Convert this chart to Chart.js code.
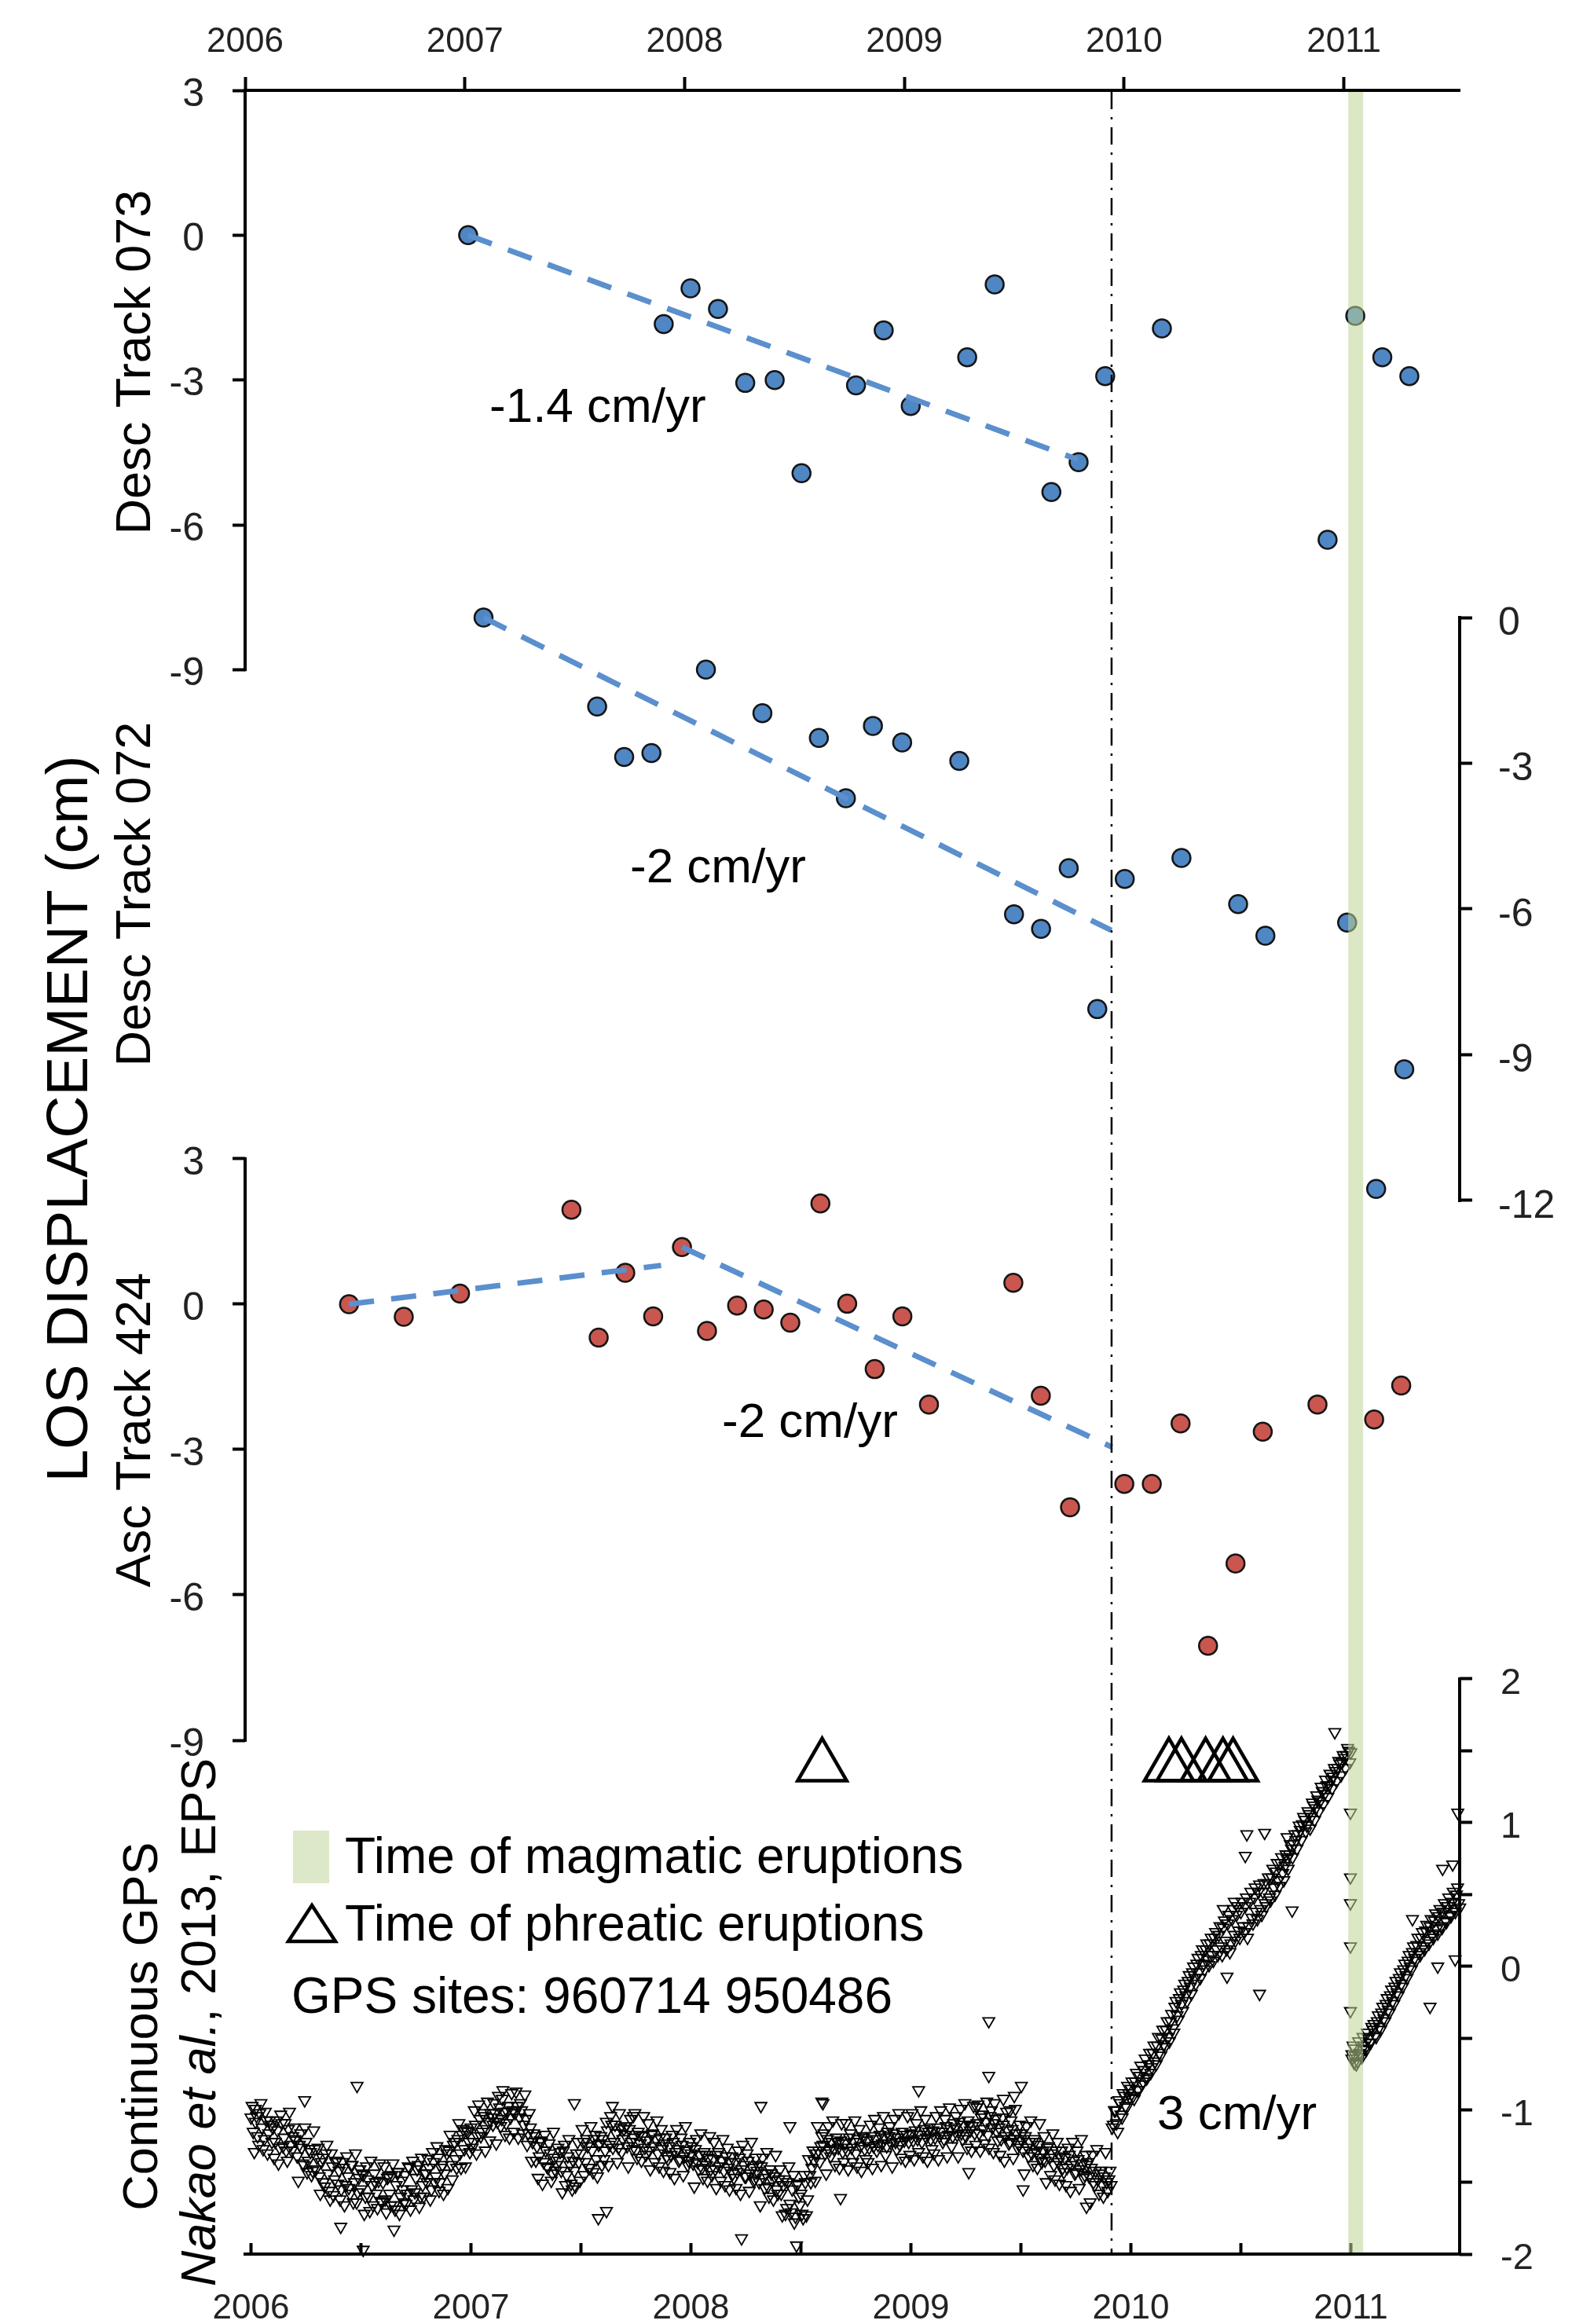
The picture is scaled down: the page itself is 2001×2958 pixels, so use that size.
<!DOCTYPE html>
<html>
<head>
<meta charset="utf-8">
<title>LOS displacement and continuous GPS</title>
<script src="https://cdn.jsdelivr.net/npm/chart.js@4.4.1/dist/chart.umd.min.js"></script>
<style>
  html, body { margin: 0; padding: 0; background: #fff; }
  canvas { display: block; }
</style>
</head>
<body>
<canvas id="losChart" width="2001" height="2958"></canvas>
<script>
// ---- tick labels ----
var yearTicks = [2006, 2007, 2008, 2009, 2010, 2011];
var gpsYearTicks = [2006, 2006.5, 2007, 2007.5, 2008, 2008.5, 2009, 2009.5, 2010, 2010.5, 2011];
var ticks073 = [3, 0, -3, -6, -9];
var ticks072 = [0, -3, -6, -9, -12];
var ticks424 = [3, 0, -3, -6, -9];
var gpsTicks = [2, 1.5, 1, 0.5, 0, -0.5, -1, -1.5, -2];

// ---- InSAR time series (year, cm) ----
var t073 = [2007.015, 2007.905, 2008.027, 2008.152, 2008.276, 2008.41, 2008.532, 2008.78, 2008.906, 2009.029,
            2009.286, 2009.411, 2009.669, 2009.793, 2009.914, 2010.172, 2010.926, 2011.052, 2011.175, 2011.298];
var d073 = [0, -1.84, -1.10, -1.53, -3.06, -3.00, -4.93, -3.11, -1.97, -3.54,
            -2.53, -1.02, -5.32, -4.70, -2.92, -1.93, -6.31, -1.67, -2.53, -2.92];

var t072 = [2007.085, 2007.602, 2007.725, 2007.849, 2008.097, 2008.354, 2008.611, 2008.734, 2008.857, 2008.99, 2009.25,
            2009.499, 2009.622, 2009.748, 2009.878, 2010.003, 2010.261, 2010.519, 2010.643, 2011.015, 2011.147, 2011.275];
var d072 = [0, -1.83, -2.87, -2.79, -1.07, -1.97, -2.48, -3.72, -2.23, -2.57, -2.95,
            -6.11, -6.41, -5.16, -8.06, -5.38, -4.95, -5.90, -6.55, -6.28, -11.76, -9.30];

var t424 = [2006.473, 2006.722, 2006.978, 2007.485, 2007.609, 2007.73, 2007.857, 2007.988, 2008.102, 2008.239,
            2008.36, 2008.481, 2008.618, 2008.74, 2008.865, 2008.991, 2009.112, 2009.496, 2009.621, 2009.754,
            2010.001, 2010.126, 2010.257, 2010.382, 2010.507, 2010.631, 2010.88, 2011.138, 2011.261];
var d424 = [0, -0.26, 0.22, 1.95, -0.69, 0.65, -0.25, 1.18, -0.55, -0.03,
            -0.11, -0.38, 2.08, 0.01, -1.34, -0.25, -2.07, 0.44, -1.89, -4.19,
            -3.71, -3.71, -2.46, -7.05, -5.35, -2.63, -2.07, -2.38, -1.68];

// ---- fitted trends (end points) ----
var fit073T = [2007.015, 2009.79],  fit073V = [0, -4.65];
var fit072T = [2007.085, 2009.942], fit072V = [0, -6.44];
var fit424aT = [2006.473, 2007.893], fit424aV = [0, 0.80];
var fit424bT = [2007.988, 2009.945], fit424bV = [1.18, -2.95];

// ---- events ----
var phreaticTimes = [2008.626, 2010.204, 2010.261, 2010.371, 2010.45, 2010.496];
var phreaticLevel = 1.39;
var magmaticStart = 2011.02, magmaticEnd = 2011.088;
var changeTime = 2009.943;

// ---- continuous GPS (cm), two interleaved sets of daily solutions ----
var gpsStart = 2006.0, gpsStep = 0.01;
var gpsValues = [
  // 2006
  -1.05,-1.15,-1.08,-1.18,-1.02,-1.12,-1.20,-1.07,-1.16,-1.10,
  -1.12,-1.22,-1.14,-1.26,-1.09,-1.19,-1.28,-1.13,-1.24,-1.18,
  -1.20,-1.32,-1.24,-1.26,-1.38,-1.22,-1.35,-1.29,-1.42,-1.27,
  -1.33,-1.46,-1.36,-1.50,-1.30,-1.44,-1.62,-1.39,-1.48,-1.35,
  -1.42,-1.55,-1.40,-1.52,-1.46,-1.58,-1.38,-1.50,-1.64,-1.47,
  -1.55,-1.45,-1.60,-1.48,-1.70,-1.52,-1.44,-1.58,-1.49,-1.63,
  -1.50,-1.62,-1.47,-1.58,-1.45,-1.66,-1.52,-1.43,-1.60,-1.55,
  -1.45,-1.58,-1.40,-1.55,-1.62,-1.47,-1.38,-1.60,-1.52,-1.44,
  -1.50,-1.40,-1.55,-1.36,-1.46,-1.33,-1.50,-1.38,-1.44,-1.30,
  -1.28,-1.38,-1.24,-1.34,-1.20,-1.30,-1.17,-1.27,-1.14,-1.22,
  // 2007
  -1.12,-1.22,-1.10,-1.18,-1.06,-1.15,-1.04,-1.13,-1.08,-1.02,
  -1.10,-1.02,-1.08,-0.98,-1.06,-1.01,-1.09,-0.97,-1.05,-1.00,
  -1.02,-0.97,-1.05,-1.00,-1.10,-1.06,-1.16,-1.12,-1.22,-1.18,
  -1.25,-1.32,-1.22,-1.36,-1.28,-1.40,-1.30,-1.44,-1.33,-1.38,
  -1.35,-1.42,-1.28,-1.52,-1.32,-1.38,-1.55,-1.42,-1.30,-1.36,
  -1.30,-1.22,-1.36,-1.25,-1.40,-1.28,-1.20,-1.34,-1.24,-1.18,
  -1.20,-1.28,-1.14,-1.24,-1.10,-1.22,-1.16,-1.26,-1.12,-1.20,
  -1.17,-1.25,-1.13,-1.22,-1.19,-1.28,-1.15,-1.23,-1.18,-1.26,
  -1.21,-1.28,-1.17,-1.25,-1.20,-1.30,-1.19,-1.27,-1.23,-1.32,
  -1.25,-1.31,-1.22,-1.29,-1.27,-1.34,-1.24,-1.32,-1.28,-1.35,
  // 2008
  -1.30,-1.37,-1.27,-1.36,-1.31,-1.40,-1.29,-1.38,-1.33,-1.41,
  -1.34,-1.41,-1.31,-1.39,-1.35,-1.42,-1.32,-1.40,-1.36,-1.44,
  -1.36,-1.43,-1.33,-1.41,-1.38,-1.46,-1.35,-1.44,-1.40,-1.48,
  -1.42,-1.50,-1.39,-1.47,-1.44,-1.53,-1.41,-1.49,-1.46,-1.55,
  -1.48,-1.58,-1.52,-1.72,-1.50,-1.65,-1.55,-1.78,-1.52,-1.60,
  -1.58,-1.75,-1.50,-1.62,-1.45,-1.40,-1.35,-1.30,-1.28,-1.25,
  -1.24,-1.30,-1.20,-1.28,-1.22,-1.27,-1.19,-1.26,-1.21,-1.29,
  -1.23,-1.28,-1.19,-1.26,-1.22,-1.30,-1.20,-1.25,-1.18,-1.27,
  -1.21,-1.26,-1.18,-1.25,-1.20,-1.24,-1.17,-1.23,-1.19,-1.25,
  -1.18,-1.23,-1.16,-1.22,-1.19,-1.24,-1.15,-1.21,-1.17,-1.22,
  // 2009
  -1.16,-1.21,-1.14,-1.20,-1.17,-1.22,-1.13,-1.19,-1.15,-1.20,
  -1.14,-1.19,-1.12,-1.18,-1.15,-1.20,-1.11,-1.17,-1.13,-1.18,
  -1.12,-1.17,-1.08,-1.16,-1.10,-1.18,-1.07,-1.14,-1.11,-1.16,
  -1.09,-1.16,-1.05,-1.13,-1.08,-1.17,-1.04,-1.12,-1.09,-1.15,
  -1.12,-1.20,-1.10,-1.18,-1.14,-1.22,-1.13,-1.20,-1.16,-1.24,
  -1.20,-1.28,-1.18,-1.26,-1.22,-1.30,-1.20,-1.29,-1.24,-1.33,
  -1.28,-1.35,-1.26,-1.33,-1.30,-1.38,-1.28,-1.36,-1.32,-1.40,
  -1.33,-1.40,-1.31,-1.38,-1.35,-1.43,-1.34,-1.41,-1.37,-1.45,
  -1.38,-1.46,-1.40,-1.50,-1.42,-1.48,-1.44,-1.52,-1.46,-1.50,
  -1.48,-1.52,-1.10,-1.00,-1.15,-0.95,-1.05,-0.90,-0.98,-0.88,
  // 2010
  -0.85,-0.90,-0.80,-0.86,-0.76,-0.82,-0.72,-0.78,-0.68,-0.74,
  -0.60,-0.66,-0.55,-0.60,-0.50,-0.54,-0.44,-0.49,-0.38,-0.43,
  -0.28,-0.34,-0.22,-0.26,-0.16,-0.20,-0.10,-0.14,-0.04,-0.08,
   0.02,-0.04, 0.08, 0.02, 0.12, 0.05, 0.16, 0.08, 0.20, 0.12,
   0.22, 0.14, 0.27, 0.18, 0.30, 0.10, 0.33, 0.22, 0.36, 0.25,
   0.38, 0.28, 0.42, 0.20, 0.45, 0.34, 0.48, 0.38, 0.52, 0.40,
   0.52, 0.44, 0.58, 0.48, 0.62, 0.55, 0.66, 0.60, 0.72, 0.65,
   0.70, 0.75, 0.78, 0.82, 0.85, 0.88, 0.92, 0.95, 0.99, 1.02,
   0.98, 1.06, 1.04, 1.12, 1.10, 1.16, 1.15, 1.22, 1.20, 1.26,
   1.26, 1.30, 1.32, 1.36, 1.38, 1.41, 1.42, 1.45, 1.47, 1.50,
  // 2011
   1.49,-0.55,-0.62,-0.66,-0.60,-0.63,-0.55,-0.58,-0.50,-0.53,
  -0.44,-0.48,-0.38,-0.42,-0.32,-0.36,-0.26,-0.30,-0.20,-0.24,
  -0.14,-0.18,-0.08,-0.12,-0.02,-0.06, 0.04, 0.00, 0.10, 0.06,
   0.15, 0.10, 0.20, 0.14, 0.25, 0.18, 0.28, 0.22, 0.32, 0.26,
   0.35, 0.28, 0.38, 0.32, 0.42, 0.36, 0.45, 0.40, 0.50, 0.44
];
// second set, half a step later, wider spread
var gpsValuesB = [
  // 2006
  -0.97,-1.29,-1.04,-1.24,-0.95,-1.27,-1.01,-1.30,-1.07,-1.22,
  -1.33,-1.07,-1.37,-1.03,-1.25,-1.09,-1.35,-1.01,-1.28,-1.12,
  -1.21,-1.49,-1.16,-1.37,-1.12,-1.43,-1.27,-1.45,-1.14,-1.41,
  -1.26,-1.58,-1.33,-1.53,-1.24,-1.56,-1.30,-1.59,-1.36,-1.51,
  -1.62,-1.36,-1.66,-1.32,-1.54,-1.38,-1.64,-1.30,-1.57,-1.41,
  -1.44,-1.72,-1.39,-1.60,-1.35,-1.66,-1.50,-1.68,-1.37,-1.64,
  -1.39,-1.71,-1.46,-1.66,-1.37,-1.69,-1.43,-1.72,-1.49,-1.64,
  -1.65,-1.39,-1.69,-1.35,-1.57,-1.41,-1.67,-1.33,-1.60,-1.44,
  -1.34,-1.62,-1.29,-1.50,-1.25,-1.56,-1.40,-1.58,-1.27,-1.54,
  -1.17,-1.48,-1.22,-1.40,-1.09,-1.40,-1.13,-1.39,-1.15,-1.29,
  // 2007
  -1.26,-1.00,-1.30,-0.96,-1.18,-1.02,-1.28,-0.94,-1.21,-1.05,
  -0.95,-1.23,-0.90,-1.11,-0.86,-1.17,-1.01,-1.19,-0.88,-1.15,
  -0.87,-1.19,-0.95,-1.16,-0.89,-1.24,-1.02,-1.35,-1.16,-1.35,
  -1.47,-1.21,-1.51,-1.17,-1.39,-1.23,-1.49,-1.15,-1.42,-1.26,
  -1.29,-1.57,-1.24,-1.45,-1.20,-1.51,-1.35,-1.53,-1.22,-1.49,
  -1.13,-1.45,-1.20,-1.40,-1.11,-1.43,-1.17,-1.46,-1.23,-1.38,
  -1.34,-1.08,-1.38,-1.04,-1.26,-1.10,-1.36,-1.02,-1.29,-1.13,
  -1.11,-1.39,-1.06,-1.27,-1.02,-1.33,-1.17,-1.35,-1.04,-1.31,
  -1.09,-1.41,-1.16,-1.36,-1.07,-1.39,-1.13,-1.42,-1.19,-1.34,
  -1.43,-1.17,-1.47,-1.13,-1.35,-1.19,-1.45,-1.11,-1.38,-1.22,
  // 2008
  -1.25,-1.53,-1.20,-1.41,-1.16,-1.47,-1.31,-1.49,-1.18,-1.45,
  -1.22,-1.54,-1.29,-1.49,-1.20,-1.52,-1.26,-1.55,-1.32,-1.47,
  -1.54,-1.28,-1.58,-1.24,-1.46,-1.30,-1.56,-1.22,-1.49,-1.33,
  -1.38,-1.66,-1.33,-1.54,-1.29,-1.60,-1.44,-1.62,-1.31,-1.58,
  -1.41,-1.73,-1.48,-1.68,-1.39,-1.71,-1.45,-1.74,-1.51,-1.66,
  -1.72,-1.45,-1.73,-1.34,-1.50,-1.28,-1.49,-1.11,-1.36,-1.18,
  -1.16,-1.44,-1.11,-1.32,-1.07,-1.38,-1.22,-1.40,-1.09,-1.36,
  -1.09,-1.41,-1.16,-1.36,-1.07,-1.39,-1.13,-1.42,-1.19,-1.34,
  -1.36,-1.10,-1.40,-1.06,-1.28,-1.12,-1.38,-1.04,-1.31,-1.15,
  -1.11,-1.39,-1.06,-1.27,-1.02,-1.33,-1.17,-1.35,-1.04,-1.31,
  // 2009
  -1.02,-1.34,-1.09,-1.29,-1.00,-1.32,-1.06,-1.35,-1.12,-1.27,
  -1.30,-1.04,-1.34,-1.00,-1.22,-1.06,-1.32,-0.98,-1.25,-1.09,
  -1.04,-1.32,-0.99,-1.20,-0.95,-1.26,-1.10,-1.28,-0.97,-1.24,
  -0.96,-1.28,-1.03,-1.23,-0.94,-1.26,-1.00,-1.29,-1.06,-1.21,
  -1.31,-1.05,-1.35,-1.01,-1.23,-1.07,-1.33,-0.99,-1.26,-1.10,
  -1.16,-1.44,-1.11,-1.32,-1.07,-1.38,-1.22,-1.40,-1.09,-1.36,
  -1.18,-1.50,-1.25,-1.45,-1.16,-1.48,-1.22,-1.51,-1.28,-1.43,
  -1.52,-1.26,-1.56,-1.22,-1.44,-1.28,-1.54,-1.20,-1.47,-1.31,
  -1.36,-1.64,-1.31,-1.52,-1.27,-1.58,-1.42,-1.60,-1.29,-1.56,
  -1.42,-1.12,-1.00,-1.09,-0.93,-1.03,-0.88,-0.97,-0.83,-0.91,
  // 2010
  -0.80,-0.92,-0.74,-0.86,-0.69,-0.80,-0.64,-0.77,-0.60,-0.70,
  -0.55,-0.68,-0.49,-0.62,-0.44,-0.56,-0.38,-0.52,-0.33,-0.46,
  -0.24,-0.37,-0.18,-0.31,-0.12,-0.24,-0.06,-0.19, 0.00,-0.12,
   0.06,-0.08, 0.12,-0.02, 0.16, 0.01, 0.20, 0.04, 0.24, 0.08,
   0.28, 0.08, 0.32, 0.12, 0.36, 0.16, 0.40, 0.18, 0.42, 0.20,
   0.45, 0.24, 0.48, 0.28, 0.52, 0.30, 0.55, 0.33, 0.57, 0.36,
   0.58, 0.42, 0.62, 0.46, 0.68, 0.50, 0.72, 0.56, 0.76, 0.60,
   0.78, 0.68, 0.85, 0.76, 0.92, 0.82, 0.98, 0.88, 1.04, 0.94,
   1.08, 0.96, 1.14, 1.02, 1.19, 1.08, 1.25, 1.13, 1.30, 1.18,
   1.34, 1.24, 1.38, 1.29, 1.43, 1.33, 1.47, 1.38, 1.52, 1.42,
  // 2011
  -0.64,-0.57,-0.68,-0.52,-0.61,-0.49,-0.57,-0.46,-0.53,-0.42,
  -0.40,-0.49,-0.34,-0.44,-0.28,-0.38,-0.22,-0.32,-0.16,-0.26,
  -0.10,-0.20,-0.04,-0.14, 0.02,-0.08, 0.08,-0.02, 0.14, 0.04,
   0.20, 0.08, 0.24, 0.12, 0.29, 0.16, 0.33, 0.20, 0.37, 0.23,
   0.40, 0.27, 0.44, 0.31, 0.48, 0.35, 0.52, 0.38, 0.55, 0.41
];
// scattered GPS solutions away from the main band
var gpsExtraT = [2006.02, 2006.244, 2006.482, 2006.408, 2006.51, 2006.69, 2006.65, 2007.142, 2007.47, 2007.643,
                 2007.738, 2007.579, 2007.616, 2008.318, 2008.6, 2008.45, 2008.23, 2008.48, 2008.595, 2008.68,
                 2009.035, 2009.30, 2009.354, 2009.354, 2009.38, 2009.42, 2009.45, 2009.47, 2009.502, 2009.263,
                 2009.51, 2009.798, 2010.437, 2010.42, 2010.47, 2010.52, 2010.527, 2010.585, 2010.608, 2010.71,
                 2010.733, 2010.927, 2010.998, 2010.998, 2010.998, 2010.998, 2010.998, 2011.005, 2011.015, 2011.28,
                 2011.36, 2011.395, 2011.417, 2011.463, 2011.474, 2011.486];
var gpsExtraV = [-0.99, -0.93, -0.83, -1.81, -1.97, -2.14, -1.83, -0.92, -0.95, -0.97,
                 -1.04, -1.75, -1.70, -0.97, -0.95, -1.11, -1.89, -1.94, -0.94, -1.61,
                 -0.86, -0.98, -0.38, -0.76, -0.95, -0.92, -1.00, -0.90, -0.83, -1.43,
                 -1.55, -1.67, -0.07, 0.40, 0.45, 0.77, 0.92, -0.19, 0.93, 0.90,
                 0.39, 1.63, 1.07, 0.62, 0.44, 0.14, -0.31, -0.61, -0.67, 0.33,
                 -0.28, 0.00, 0.68, 0.71, 0.05, 1.07];

function toPoints(t, v) {
  return t.map(function (x, i) { return { x: x, y: v[i] }; });
}
function gpsSeries(values, shift) {
  return values.map(function (v, i) {
    return { x: +(gpsStart + shift + i * gpsStep).toFixed(3), y: v };
  });
}

// ---- styles ----
var BLUE = '#4f86c4', RED = '#c9574f', EDGE = '#151515', TREND = '#5b8fcd';
var SANS = "'Liberation Sans', Arial, sans-serif";
var NARROW = "'Liberation Sans Narrow', 'Arial Narrow', 'Liberation Sans', sans-serif";

function yAxis(pos, weight, width, min, max, tickList, size, pad, offset, fmt) {
  return {
    type: 'linear', position: pos, weight: weight, min: min, max: max,
    afterFit: function (s) { s.width = width; },
    afterBuildTicks: function (s) { s.ticks = tickList.map(function (v) { return { value: v }; }); },
    ticks: {
      autoSkip: false, padding: pad, labelOffset: offset, color: '#222',
      font: { family: NARROW, size: size },
      callback: fmt || function (v) { return String(v); }
    },
    grid: { drawOnChartArea: false, drawTicks: true, tickLength: 16, tickWidth: 4, tickColor: '#000', color: '#000' },
    border: { display: false }
  };
}

function trend(t, v, yId) {
  return {
    data: toPoints(t, v), xAxisID: 'x', yAxisID: yId, showLine: true,
    borderColor: TREND, borderWidth: 7, borderDash: [32, 22], pointRadius: 0, fill: false
  };
}
function insar(t, v, yId, color) {
  return {
    data: toPoints(t, v), xAxisID: 'x', yAxisID: yId,
    pointRadius: 11.5, pointBackgroundColor: color, pointBorderColor: EDGE, pointBorderWidth: 2.5
  };
}
function gpsSet(points) {
  return {
    data: points, xAxisID: 'x2', yAxisID: 'yG', clip: false,
    pointStyle: 'triangle', pointRotation: 180, pointRadius: 8.5, pointBorderWidth: 1.8,
    pointBorderColor: '#000', pointBackgroundColor: 'rgba(255,255,255,0)'
  };
}

// ---- decorations drawn on the canvas ----
var decorations = {
  id: 'decorations',
  afterLayout: function (chart) {
    // the inner axes have no width of their own; let their labels show
    chart.scales.y424.left = 0;
    chart.scales.yG.right = chart.width;
  },
  beforeDraw: function (chart) {
    var ctx = chart.ctx;
    ctx.save();
    ctx.fillStyle = '#fff';
    ctx.fillRect(0, 0, chart.width, chart.height);
    ctx.restore();
  },
  afterDatasetsDraw: function (chart) {
    var ctx = chart.ctx, area = chart.chartArea, x = chart.scales.x;
    ctx.save();
    // magmatic eruption band
    var x0 = x.getPixelForValue(magmaticStart), x1 = x.getPixelForValue(magmaticEnd);
    ctx.fillStyle = 'rgba(190,212,150,0.55)';
    ctx.fillRect(x0, area.top + 2, x1 - x0, area.bottom - area.top - 4);
    // dash-dot line at the rate change
    var xc = x.getPixelForValue(changeTime);
    ctx.strokeStyle = '#000';
    ctx.lineWidth = 2.5;
    ctx.setLineDash([22, 10, 3, 10]);
    ctx.beginPath();
    ctx.moveTo(xc, area.top + 2);
    ctx.lineTo(xc, area.bottom);
    ctx.stroke();
    ctx.restore();
  },
  afterDraw: function (chart) {
    var ctx = chart.ctx, s = chart.scales;
    ctx.save();

    // partial axis lines
    ctx.strokeStyle = '#000';
    ctx.lineWidth = 4;
    ctx.lineCap = 'square';
    [['y073', 3, -9, 'left'], ['y424', 3, -9, 'left'], ['y072', 0, -12, 'right'], ['yG', 2, -2, 'right']].forEach(function (a) {
      var sc = s[a[0]];
      var xx = a[3] === 'left' ? s.y073.right : s.y072.left;
      ctx.beginPath();
      ctx.moveTo(xx, sc.getPixelForValue(a[1]));
      ctx.lineTo(xx, sc.getPixelForValue(a[2]));
      ctx.stroke();
    });

    // rotated axis titles
    ctx.fillStyle = '#000';
    function vText(txt, xBase, yMid, font) {
      ctx.save();
      ctx.translate(xBase, yMid);
      ctx.rotate(-Math.PI / 2);
      ctx.font = font;
      ctx.textAlign = 'center';
      ctx.textBaseline = 'alphabetic';
      ctx.fillText(txt, 0, 0);
      ctx.restore();
    }
    vText('LOS DISPLACEMENT (cm)', 111, 1424, '75px ' + SANS);
    vText('Desc Track 073', 191, 461, '63px ' + SANS);
    vText('Desc Track 072', 191, 1138, '63px ' + SANS);
    vText('Asc Track 424', 191, 1820, '63px ' + SANS);
    vText('Continuous GPS', 200, 2579, '63px ' + SANS);

    // citation, partly italic
    ctx.save();
    ctx.translate(274, 2574);
    ctx.rotate(-Math.PI / 2);
    ctx.textBaseline = 'alphabetic';
    ctx.textAlign = 'left';
    var p1 = 'Nakao et al.', p2 = ', 2013, EPS';
    ctx.font = 'italic 63px ' + SANS;
    var w1 = ctx.measureText(p1).width;
    ctx.font = '63px ' + SANS;
    var w2 = ctx.measureText(p2).width;
    ctx.font = 'italic 63px ' + SANS;
    ctx.fillText(p1, -(w1 + w2) / 2, 0);
    ctx.font = '63px ' + SANS;
    ctx.fillText(p2, -(w1 + w2) / 2 + w1, 0);
    ctx.restore();

    // rate annotations
    ctx.font = '62px ' + SANS;
    ctx.textAlign = 'left';
    ctx.textBaseline = 'alphabetic';
    ctx.fillText('-1.4 cm/yr', 623, 537);
    ctx.fillText('-2 cm/yr', 802, 1123);
    ctx.fillText('-2 cm/yr', 919, 1829);
    ctx.fillText('3 cm/yr', 1473, 2710);

    // legend
    ctx.fillStyle = '#dde8c8';
    ctx.fillRect(373, 2330, 46, 67);
    ctx.strokeStyle = '#000';
    ctx.lineWidth = 4.5;
    ctx.lineJoin = 'miter';
    ctx.beginPath();
    ctx.moveTo(397, 2425);
    ctx.lineTo(427, 2471);
    ctx.lineTo(367, 2471);
    ctx.closePath();
    ctx.stroke();
    ctx.fillStyle = '#000';
    ctx.font = '64px ' + SANS;
    ctx.fillText('Time of magmatic eruptions', 439, 2384);
    ctx.fillText('Time of phreatic eruptions', 439, 2470);
    ctx.fillText('GPS sites: 960714 950486', 371, 2562);

    ctx.restore();
  }
};

new Chart(document.getElementById('losChart'), {
  type: 'scatter',
  data: {
    datasets: [
      trend(fit073T, fit073V, 'y073'),
      trend(fit072T, fit072V, 'y072'),
      trend(fit424aT, fit424aV, 'y424'),
      trend(fit424bT, fit424bV, 'y424'),
      insar(t073, d073, 'y073', BLUE),
      insar(t072, d072, 'y072', BLUE),
      insar(t424, d424, 'y424', RED),
      {
        data: phreaticTimes.map(function (t) { return { x: t, y: phreaticLevel }; }),
        xAxisID: 'x', yAxisID: 'yG',
        pointStyle: 'triangle', pointRadius: 36, pointBorderWidth: 4.5,
        pointBorderColor: '#000', pointBackgroundColor: 'rgba(255,255,255,0)'
      },
      gpsSet(toPoints(gpsExtraT, gpsExtraV)),
      gpsSet(gpsSeries(gpsValues, 0)),
      gpsSet(gpsSeries(gpsValuesB, gpsStep / 2))
    ]
  },
  options: {
    responsive: false,
    animation: false,
    devicePixelRatio: 1,
    events: [],
    layout: { padding: 0, autoPadding: false },
    plugins: { legend: { display: false }, tooltip: { enabled: false } },
    scales: {
      x: {
        type: 'linear', position: 'top', min: 2006, max: 2011.527,
        afterFit: function (s) { s.height = 115; },
        afterBuildTicks: function (s) { s.ticks = yearTicks.map(function (v) { return { value: v }; }); },
        ticks: {
          autoSkip: false, maxRotation: 0, padding: 18, color: '#222',
          font: { family: SANS, size: 44 },
          callback: function (v) { return String(v); }
        },
        grid: { drawOnChartArea: false, tickLength: 17, tickWidth: 4, tickColor: '#000', color: '#000' },
        border: { display: true, width: 4, color: '#000' }
      },
      x2: {
        type: 'linear', position: 'bottom', min: 2005.9732, max: 2011.4946,
        afterFit: function (s) { s.height = 89; },
        afterBuildTicks: function (s) { s.ticks = gpsYearTicks.map(function (v) { return { value: v }; }); },
        ticks: {
          autoSkip: false, maxRotation: 0, padding: 57, color: '#222',
          font: { family: SANS, size: 44 },
          callback: function (v) { return Number.isInteger(v) ? String(v) : ''; }
        },
        grid: { drawOnChartArea: false, tickLength: -14, tickWidth: 4, tickColor: '#000', color: '#000' },
        border: { display: true, width: 4, color: '#000' }
      },
      y073: yAxis('left', 1, 312, -41.82, 3, ticks073, 50, 36, 6),
      y424: yAxis('left', 0, 0, -19.605, 25.053, ticks424, 50, 36, 6),
      y072: yAxis('right', 1, 143, -33.688, 10.852, ticks072, 50, 33, 8),
      yG: yAxis('right', 0, 0, -2, 13.049, gpsTicks, 47, 36, 6, function (v) {
        return Number.isInteger(v) ? String(v) : '';
      })
    }
  },
  plugins: [decorations]
});
</script>
</body>
</html>
